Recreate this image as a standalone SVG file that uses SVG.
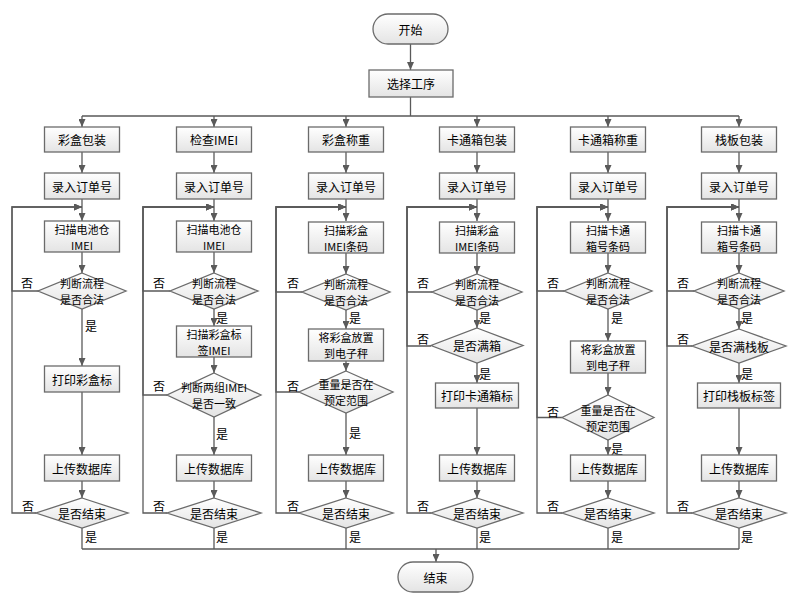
<svg xmlns="http://www.w3.org/2000/svg" width="802" height="601" viewBox="0 0 802 601">
<defs>
<linearGradient id="g" x1="0" y1="0" x2="0" y2="1">
<stop offset="0" stop-color="#ffffff"/>
<stop offset="1" stop-color="#e4e4e4"/>
</linearGradient>
<marker id="a" markerUnits="userSpaceOnUse" markerWidth="8" markerHeight="7" refX="8" refY="3.5" orient="auto">
<path d="M0,0 L8,3.5 L0,7 z" fill="#5a5a5a"/>
</marker>
</defs>
<style>
.n{fill:url(#g);stroke:#6b6b6b;stroke-width:1.3}
.t{font-family:"Noto Sans CJK SC","Liberation Sans",sans-serif;font-size:12px;fill:#000;text-anchor:middle;dominant-baseline:central}
.t2{font-size:11px}
.c{fill:none;stroke:#5a5a5a;stroke-width:1.3}
.ar{marker-end:url(#a)}
</style>
<rect width="802" height="601" fill="#ffffff"/>

<g id="connectors">
<path class="c ar" d="M410.5,44 V70"/>
<path class="c" d="M410.5,97 V116 M82,116 H739"/>
<path class="c ar" d="M82,116 V127"/><path class="c ar" d="M214,116 V127"/><path class="c ar" d="M346,116 V127"/><path class="c ar" d="M477,116 V127"/><path class="c ar" d="M608,116 V127"/><path class="c ar" d="M739,116 V127"/>
<!-- column 1 -->
<path class="c ar" d="M82,152 V173"/><path class="c ar" d="M82,199 V221"/><path class="c ar" d="M82,252 V273"/>
<path class="c ar" d="M39,291 H12 V207 H82"/>
<path class="c ar" d="M82,309 V366"/><path class="c ar" d="M82,392 V455"/><path class="c ar" d="M82,481 V498"/>
<path class="c ar" d="M36,513 H12 V207 H82"/>
<path class="c" d="M82,528 V549"/>
<!-- column 2 -->
<path class="c ar" d="M214,152 V173"/><path class="c ar" d="M214,199 V221"/><path class="c ar" d="M214,252 V273"/>
<path class="c ar" d="M170,291 H143 V207 H214"/>
<path class="c ar" d="M214,309 V326"/><path class="c ar" d="M214,357 V373"/>
<path class="c ar" d="M167,395 H143 V207 H214"/>
<path class="c ar" d="M214,417 V455"/><path class="c ar" d="M214,481 V498"/>
<path class="c ar" d="M167,513 H143 V207 H214"/>
<path class="c" d="M214,528 V549"/>
<!-- column 3 -->
<path class="c ar" d="M346,152 V173"/><path class="c ar" d="M346,199 V221"/><path class="c ar" d="M346,253 V274"/>
<path class="c ar" d="M302,292 H276 V207 H346"/>
<path class="c ar" d="M346,310 V329"/><path class="c ar" d="M346,361 V371"/>
<path class="c ar" d="M299,392 H276 V207 H346"/>
<path class="c ar" d="M346,413 V455"/><path class="c ar" d="M346,481 V498"/>
<path class="c ar" d="M300,513 H276 V207 H346"/>
<path class="c" d="M346,528 V549"/>
<!-- column 4 -->
<path class="c ar" d="M477,152 V173"/><path class="c ar" d="M477,199 V221"/><path class="c ar" d="M477,253 V274"/>
<path class="c ar" d="M432,292 H407 V207 H477"/>
<path class="c ar" d="M477,310 V328"/>
<path class="c ar" d="M431,346 H407 V207 H477"/>
<path class="c ar" d="M477,363 V383"/><path class="c ar" d="M477,408 V455"/><path class="c ar" d="M477,481 V498"/>
<path class="c ar" d="M431,513 H407 V207 H477"/>
<path class="c" d="M477,528 V549"/>
<!-- column 5 -->
<path class="c ar" d="M608,152 V173"/><path class="c ar" d="M608,199 V221"/><path class="c ar" d="M608,253 V273"/>
<path class="c ar" d="M564,291 H537 V207 H608"/>
<path class="c ar" d="M608,309 V341"/><path class="c ar" d="M608,373 V395"/>
<path class="c ar" d="M562,417.5 H537 V207 H608"/>
<path class="c ar" d="M608,440 V455"/><path class="c ar" d="M608,481 V498"/>
<path class="c ar" d="M562,513 H537 V207 H608"/>
<path class="c" d="M608,528 V549"/>
<!-- column 6 -->
<path class="c ar" d="M739,152 V173"/><path class="c ar" d="M739,199 V221"/><path class="c ar" d="M739,253 V273"/>
<path class="c ar" d="M694,291 H667 V207 H739"/>
<path class="c ar" d="M739,309 V329"/>
<path class="c ar" d="M692,346 H667 V207 H739"/>
<path class="c ar" d="M739,363 V383"/><path class="c ar" d="M739,408 V455"/><path class="c ar" d="M739,481 V498"/>
<path class="c ar" d="M692,513 H667 V207 H739"/>
<path class="c" d="M739,528 V549"/>
<!-- bottom bus -->
<path class="c" d="M82,549 H739"/>
<path class="c ar" d="M436,549 V562"/>
</g>

<g id="labels">
<text class="t" x="27" y="282">否</text><text class="t" x="91" y="325">是</text><text class="t" x="28" y="505">否</text><text class="t" x="91" y="536">是</text>
<text class="t" x="159" y="282">否</text><text class="t" x="222" y="317">是</text><text class="t" x="159" y="385">否</text><text class="t" x="222" y="433">是</text><text class="t" x="159" y="505">否</text><text class="t" x="222" y="536">是</text>
<text class="t" x="293" y="282">否</text><text class="t" x="355" y="317">是</text><text class="t" x="293" y="385">否</text><text class="t" x="355" y="432">是</text><text class="t" x="293" y="505">否</text><text class="t" x="355" y="536">是</text>
<text class="t" x="423" y="282">否</text><text class="t" x="485" y="317">是</text><text class="t" x="423" y="338">否</text><text class="t" x="485" y="373">是</text><text class="t" x="423" y="505">否</text><text class="t" x="485" y="536">是</text>
<text class="t" x="553" y="282">否</text><text class="t" x="617" y="317">是</text><text class="t" x="553" y="411">否</text><text class="t" x="617" y="448">是</text><text class="t" x="553" y="505">否</text><text class="t" x="617" y="536">是</text>
<text class="t" x="683" y="282">否</text><text class="t" x="747" y="317">是</text><text class="t" x="683" y="338">否</text><text class="t" x="747" y="373">是</text><text class="t" x="683" y="505">否</text><text class="t" x="747" y="536">是</text>
</g>

<g id="start"><rect class="n" x="373" y="14" width="75" height="30" rx="15"/><text class="t" x="410.5" y="29">开始</text></g>
<g id="select"><rect class="n" x="369" y="70" width="84" height="27"/><text class="t" x="411" y="83.5">选择工序</text></g>
<g id="end"><rect class="n" x="398" y="562" width="75" height="30" rx="15"/><text class="t" x="435.5" y="577">结束</text></g>

<!-- column 1 -->
<g id="c1-head"><rect class="n" x="44.5" y="127" width="75" height="25"/><text class="t" x="82" y="139.5">彩盒包装</text></g>
<g id="c1-order"><rect class="n" x="44.5" y="173" width="75" height="26"/><text class="t" x="82" y="186">录入订单号</text></g>
<g id="c1-scan"><rect class="n" x="44.5" y="221" width="75" height="31"/><text class="t t2" x="82" y="228.5">扫描电池仓<tspan x="82" dy="16">IMEI</tspan></text></g>
<g id="c1-check"><polygon class="n" points="82,273 126,291 82,309 38,291"/><text class="t t2" x="82" y="283">判断流程<tspan x="82" dy="16">是否合法</tspan></text></g>
<g id="c1-print"><rect class="n" x="44.5" y="366" width="75" height="26"/><text class="t" x="82" y="379">打印彩盒标</text></g>
<g id="c1-upload"><rect class="n" x="44.5" y="455" width="75" height="26"/><text class="t" x="82" y="468">上传数据库</text></g>
<g id="c1-end"><polygon class="n" points="82,498 128,513 82,528 36,513"/><text class="t" x="82" y="513">是否结束</text></g>

<!-- column 2 -->
<g id="c2-head"><rect class="n" x="176.5" y="127" width="75" height="25"/><text class="t" x="214" y="139.5">检查IMEI</text></g>
<g id="c2-order"><rect class="n" x="176.5" y="173" width="75" height="26"/><text class="t" x="214" y="186">录入订单号</text></g>
<g id="c2-scan"><rect class="n" x="176.5" y="221" width="75" height="31"/><text class="t t2" x="214" y="228.5">扫描电池仓<tspan x="214" dy="16">IMEI</tspan></text></g>
<g id="c2-check"><polygon class="n" points="214,273 258,291 214,309 170,291"/><text class="t t2" x="214" y="283">判断流程<tspan x="214" dy="16">是否合法</tspan></text></g>
<g id="c2-scan2"><rect class="n" x="176.5" y="326" width="75" height="31"/><text class="t t2" x="214" y="333.5">扫描彩盒标<tspan x="214" dy="16">签IMEI</tspan></text></g>
<g id="c2-compare"><polygon class="n" points="214,373 261,395 214,417 167,395"/><text class="t t2" x="214" y="387">判断两组IMEI<tspan x="214" dy="16">是否一致</tspan></text></g>
<g id="c2-upload"><rect class="n" x="176.5" y="455" width="75" height="26"/><text class="t" x="214" y="468">上传数据库</text></g>
<g id="c2-end"><polygon class="n" points="214,498 261,513 214,528 167,513"/><text class="t" x="214" y="513">是否结束</text></g>

<!-- column 3 -->
<g id="c3-head"><rect class="n" x="308.5" y="127" width="75" height="25"/><text class="t" x="346" y="139.5">彩盒称重</text></g>
<g id="c3-order"><rect class="n" x="308.5" y="173" width="75" height="26"/><text class="t" x="346" y="186">录入订单号</text></g>
<g id="c3-scan"><rect class="n" x="308.5" y="222" width="75" height="31"/><text class="t t2" x="346" y="229.5">扫描彩盒<tspan x="346" dy="16">IMEI条码</tspan></text></g>
<g id="c3-check"><polygon class="n" points="346,274 390,292 346,310 302,292"/><text class="t t2" x="346" y="284">判断流程<tspan x="346" dy="16">是否合法</tspan></text></g>
<g id="c3-place"><rect class="n" x="308.5" y="329" width="75" height="32"/><text class="t t2" x="346" y="337">将彩盒放置<tspan x="346" dy="16">到电子秤</tspan></text></g>
<g id="c3-weight"><polygon class="n" points="346,371 393,392 346,413 299,392"/><text class="t t2" x="346" y="384">重量是否在<tspan x="346" dy="16">预定范围</tspan></text></g>
<g id="c3-upload"><rect class="n" x="308.5" y="455" width="75" height="26"/><text class="t" x="346" y="468">上传数据库</text></g>
<g id="c3-end"><polygon class="n" points="346,498 393,513 346,528 299,513"/><text class="t" x="346" y="513">是否结束</text></g>

<!-- column 4 -->
<g id="c4-head"><rect class="n" x="439.5" y="127" width="75" height="25"/><text class="t" x="477" y="139.5">卡通箱包装</text></g>
<g id="c4-order"><rect class="n" x="439.5" y="173" width="75" height="26"/><text class="t" x="477" y="186">录入订单号</text></g>
<g id="c4-scan"><rect class="n" x="439.5" y="222" width="75" height="31"/><text class="t t2" x="477" y="229.5">扫描彩盒<tspan x="477" dy="16">IMEI条码</tspan></text></g>
<g id="c4-check"><polygon class="n" points="477,274 522,292 477,310 432,292"/><text class="t t2" x="477" y="284">判断流程<tspan x="477" dy="16">是否合法</tspan></text></g>
<g id="c4-full"><polygon class="n" points="477,328 523,345.5 477,363 431,345.5"/><text class="t" x="477" y="345.5">是否满箱</text></g>
<g id="c4-print"><rect class="n" x="435.5" y="383" width="83" height="25"/><text class="t" x="477" y="395.5">打印卡通箱标</text></g>
<g id="c4-upload"><rect class="n" x="439.5" y="455" width="75" height="26"/><text class="t" x="477" y="468">上传数据库</text></g>
<g id="c4-end"><polygon class="n" points="477,498 523,513 477,528 431,513"/><text class="t" x="477" y="513">是否结束</text></g>

<!-- column 5 -->
<g id="c5-head"><rect class="n" x="570.5" y="127" width="75" height="25"/><text class="t" x="608" y="139.5">卡通箱称重</text></g>
<g id="c5-order"><rect class="n" x="570.5" y="173" width="75" height="26"/><text class="t" x="608" y="186">录入订单号</text></g>
<g id="c5-scan"><rect class="n" x="570.5" y="222" width="75" height="31"/><text class="t t2" x="608" y="229.5">扫描卡通<tspan x="608" dy="16">箱号条码</tspan></text></g>
<g id="c5-check"><polygon class="n" points="608,273 652,291 608,309 564,291"/><text class="t t2" x="608" y="283">判断流程<tspan x="608" dy="16">是否合法</tspan></text></g>
<g id="c5-place"><rect class="n" x="570.5" y="341" width="75" height="32"/><text class="t t2" x="608" y="349">将彩盒放置<tspan x="608" dy="16">到电子秤</tspan></text></g>
<g id="c5-weight"><polygon class="n" points="608,395 654,417.5 608,440 562,417.5"/><text class="t t2" x="608" y="409.5">重量是否在<tspan x="608" dy="16">预定范围</tspan></text></g>
<g id="c5-upload"><rect class="n" x="570.5" y="455" width="75" height="26"/><text class="t" x="608" y="468">上传数据库</text></g>
<g id="c5-end"><polygon class="n" points="608,498 654,513 608,528 562,513"/><text class="t" x="608" y="513">是否结束</text></g>

<!-- column 6 -->
<g id="c6-head"><rect class="n" x="701.5" y="127" width="75" height="25"/><text class="t" x="739" y="139.5">栈板包装</text></g>
<g id="c6-order"><rect class="n" x="701.5" y="173" width="75" height="26"/><text class="t" x="739" y="186">录入订单号</text></g>
<g id="c6-scan"><rect class="n" x="701.5" y="222" width="75" height="31"/><text class="t t2" x="739" y="229.5">扫描卡通<tspan x="739" dy="16">箱号条码</tspan></text></g>
<g id="c6-check"><polygon class="n" points="739,273 784,291 739,309 694,291"/><text class="t t2" x="739" y="283">判断流程<tspan x="739" dy="16">是否合法</tspan></text></g>
<g id="c6-full"><polygon class="n" points="739,329 786,346 739,363 692,346"/><text class="t" x="739" y="346">是否满栈板</text></g>
<g id="c6-print"><rect class="n" x="697.5" y="383" width="83" height="25"/><text class="t" x="739" y="395.5">打印栈板标签</text></g>
<g id="c6-upload"><rect class="n" x="701.5" y="455" width="75" height="26"/><text class="t" x="739" y="468">上传数据库</text></g>
<g id="c6-end"><polygon class="n" points="739,498 786,513 739,528 692,513"/><text class="t" x="739" y="513">是否结束</text></g>
</svg>
